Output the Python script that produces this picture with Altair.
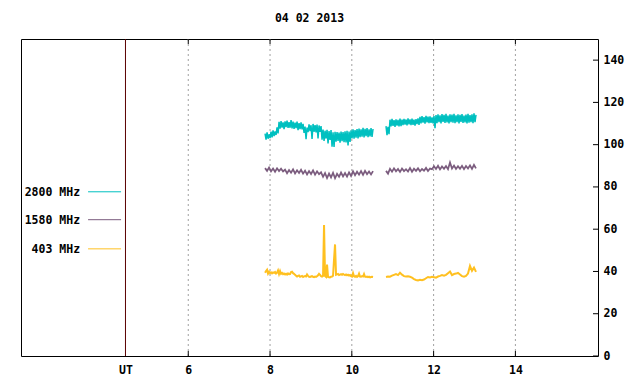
import altair as alt
import pandas as pd

TITLE = "04 02 2013"
SERIES = ["2800 MHz", "1580 MHz", "403 MHz"]
COLORS = ["#00c0c0", "#7b5c7e", "#ffc020"]

X_DOMAIN = [1.91, 16.02]
Y_DOMAIN = [0, 150]
X_TICKS = [6, 8, 10, 12, 14]
UT_POS = 4.465
Y_TICKS = [0, 20, 40, 60, 80, 100, 120, 140]

DT1 = 0.02445   # hours between samples (fine)
DT2 = 0.0489    # hours between samples (coarse)

# ---- 2800 MHz ----
S2800_A_START = 7.878
S2800_A = [105.2, 102.4, 105.8, 102.8, 104.9, 103.1,
           106.2, 103.4, 106.8, 104.0, 106.3,
           104.6, 108.2, 105.3,
           110.8, 107.6, 111.2, 108.1, 110.5, 107.4, 111.0, 108.3, 111.4, 107.9, 110.7, 108.0, 111.6, 107.7, 110.9,
           107.5, 110.4, 107.8, 110.9, 106.9, 110.2, 107.4, 110.6, 107.2, 109.8,
           105.6, 108.6, 102.6, 108.1,
           105.9, 109.6, 106.4, 109.2, 102.7, 109.8, 106.1, 109.3, 105.8, 109.5, 103.0, 109.1, 106.0, 108.8,
           102.4, 107.1, 101.8, 106.6, 102.9, 107.0, 100.6, 106.4, 102.2, 106.9,
           99.0, 105.8, 98.9, 106.1,
           101.4, 106.0, 101.8, 105.7, 100.9, 106.2, 101.6, 105.9, 101.2, 106.3,
           101.0, 106.6, 99.6, 106.2, 101.3, 106.8,
           103.0, 107.2, 102.8, 106.9, 103.3, 107.4, 102.9,
           107.6, 103.6, 107.2, 103.8, 108.0, 103.4, 107.5, 104.0, 107.8, 103.5, 107.3, 103.9, 107.9, 103.7, 107.4]
S2800_B_START = 10.836
S2800_B = [108.8, 104.5, 108.4, 105.0,
           111.8, 108.6, 112.2, 108.9, 111.6, 108.4, 112.0, 109.0, 111.7, 108.7, 112.3, 108.8, 111.9,
           109.2, 112.2, 109.5, 111.9, 109.1, 112.4, 109.6, 112.0, 109.3, 112.3, 109.4, 111.8, 109.0, 112.1, 109.7, 112.5, 109.3,
           113.2, 110.1, 113.5, 110.4, 113.0, 110.0, 113.6, 110.5, 113.3, 110.2, 113.4, 110.3, 112.9, 110.1, 113.5, 107.8,
           114.0, 110.2, 114.4, 110.6, 113.9, 110.0, 114.5, 110.8, 114.1, 110.3, 114.6, 110.5, 113.8, 110.1, 114.3, 110.7,
           114.2, 110.4, 114.6, 110.2, 113.9, 110.6, 114.4, 110.0, 114.1, 110.8, 114.5, 110.3, 113.8, 110.5, 114.2, 110.1,
           114.6, 110.4, 114.0, 110.7, 114.3, 110.2, 114.8, 110.6, 114.1]

# ---- 1580 MHz ----
S1580_A_START = 7.878
S1580_A = [88.9, 87.6, 89.2,
           87.4, 88.7, 87.2, 88.8, 87.5, 88.6, 87.3,
           88.2, 86.5, 88.0, 86.7, 88.3, 86.4, 87.9, 86.6, 88.1, 86.3,
           87.7, 85.9, 87.5, 86.1, 87.8, 85.8, 87.4, 86.0,
           86.9, 84.8, 86.6, 84.2, 86.3, 84.5, 86.7, 84.1, 86.2,
           84.8, 86.8, 85.0, 86.6, 84.9, 86.9, 85.2,
           87.4, 85.6, 87.2, 85.8, 87.5, 85.7, 87.6, 86.0, 87.3, 85.9, 87.5]
S1580_B_START = 10.836
S1580_B = [87.6, 86.3,
           88.6, 87.2, 88.8, 87.4, 88.5, 87.1, 88.7, 87.5, 88.4, 87.3, 88.9, 87.2, 88.6, 87.6, 88.8, 87.4, 88.5, 87.7, 89.0, 87.5, 88.7,
           88.4, 89.8, 88.5, 90.0, 88.3, 89.7, 88.6, 89.9, 88.4, 91.6, 88.7, 90.1, 88.5, 89.8, 88.6, 90.0, 88.4, 89.9, 88.7, 90.2,
           88.5, 90.4, 88.8]

# ---- 403 MHz ----
S403_A_START = 7.878
S403_A = [39.4, 40.2, 40.8, 39.0, 39.8, 39.2,
          39.6, 39.1, 39.5, 39.3, 39.7, 39.0, 39.4, 40.5,
          38.8, 40.2, 38.9, 39.3,
          38.7, 39.0, 38.6, 38.9, 38.5, 39.1, 38.7, 38.8,
          39.7, 39.9, 39.2, 38.9, 38.4,
          38.0, 37.6, 37.9, 38.1, 37.5, 37.7, 37.9, 37.4, 37.7, 37.8, 37.6, 38.6,
          37.9, 37.5, 37.4, 37.6, 37.8, 37.5, 37.3, 37.6, 37.4, 37.7, 38.2, 38.9, 38.4, 37.8, 37.6, 37.9,
          62.0, 37.8, 37.4, 43.2,
          37.4, 37.3, 37.2, 37.5, 37.6,
          38.0, 45.7, 52.8,
          38.4, 38.6, 38.8, 38.3, 38.5, 38.7, 38.4, 38.8, 38.5, 38.3, 38.6, 38.2, 38.5, 38.1, 38.3,
          37.8, 37.6, 39.2, 37.7, 37.5, 37.9, 37.4, 37.8, 39.0, 37.6, 37.5, 37.8, 37.6, 38.8, 37.5, 37.4,
          37.6, 37.3, 37.5, 37.2, 37.4, 37.5, 37.4]
S403_B_START = 10.836
S403_B = [37.4, 37.6, 37.5, 38.0, 38.4, 38.8, 38.3, 39.4, 38.5, 37.8, 37.6, 37.7, 37.5, 37.1, 36.4,
          36.0, 35.8, 36.1, 35.9, 36.2, 36.8, 37.4, 37.2, 37.5, 37.3, 37.1, 37.6, 37.9, 38.3, 38.0,
          38.4, 39.2, 40.0, 38.3, 38.8, 39.0, 39.3, 38.6, 37.8, 37.5, 37.9, 39.0, 42.6, 40.3, 41.8, 39.8]

SEGMENTS = [
    ("2800 MHz", "a", S2800_A_START, DT1, S2800_A),
    ("2800 MHz", "b", S2800_B_START, DT1, S2800_B),
    ("1580 MHz", "a", S1580_A_START, DT2, S1580_A),
    ("1580 MHz", "b", S1580_B_START, DT2, S1580_B),
    ("403 MHz", "a", S403_A_START, DT1, S403_A),
    ("403 MHz", "b", S403_B_START, DT2, S403_B),
]

rows = []
for name, seg, start, dt, vals in SEGMENTS:
    for i, v in enumerate(vals):
        rows.append({"t": start + i * dt, "v": v, "series": name, "seg": name + seg})
df = pd.DataFrame(rows)

# legend placement (data units)
LEG_Y = [77.7, 64.5, 50.7]
LEG_TEXT_X = 3.355
LEG_LINE_X = [3.55, 4.357]

FONT = "DejaVu Sans Mono"
FS = 11.5

xs = alt.Scale(domain=X_DOMAIN, nice=False, zero=False)
ys = alt.Scale(domain=Y_DOMAIN, nice=False, zero=False)
cs = alt.Scale(domain=SERIES, range=COLORS)
WIDTHS = alt.Scale(domain=SERIES, range=[1.5, 2.0, 1.1])

AXX = alt.Axis(
    orient="bottom", values=[UT_POS] + X_TICKS, ticks=False, grid=False, domain=False,
    labelExpr="datum.value < 5 ? 'UT' : format(datum.value, 'd')",
    labelFont=FONT, labelFontSize=FS, labelFontWeight="bold", labelColor="black",
    labelPadding=8, title=None)
AXY = alt.Axis(
    orient="right", values=Y_TICKS, ticks=False, grid=False, domain=False,
    labelFont=FONT, labelFontSize=FS, labelFontWeight="bold", labelColor="black",
    labelPadding=5, title=None)

TICK_Y = 5 / 2.113
TICK_X = 5 / 40.9

grid = alt.Chart(pd.DataFrame({"t": X_TICKS})).mark_rule(
    color="#a0a0a0", strokeDash=[2, 3], strokeWidth=1
).encode(x=alt.X("t:Q", scale=xs, axis=AXX))

ut = alt.Chart(pd.DataFrame({"t": [UT_POS]})).mark_rule(
    color="#5a0000", strokeWidth=1
).encode(x=alt.X("t:Q", scale=xs, axis=AXX))

lines = alt.Chart(df).mark_line(clip=True).encode(
    x=alt.X("t:Q", scale=xs, axis=AXX),
    y=alt.Y("v:Q", scale=ys, axis=AXY),
    color=alt.Color("series:N", scale=cs, legend=None),
    strokeWidth=alt.StrokeWidth("series:N", scale=WIDTHS, legend=None),
    detail="seg:N",
)

xt = pd.DataFrame({"t": X_TICKS})
ticks_bottom = alt.Chart(xt).mark_rule(color="black").encode(
    x=alt.X("t:Q", scale=xs, axis=AXX),
    y=alt.Y("y0:Q", scale=ys, axis=AXY),
    y2="y1:Q",
).transform_calculate(y0="0", y1=str(TICK_Y))
ticks_top = alt.Chart(xt).mark_rule(color="black").encode(
    x=alt.X("t:Q", scale=xs, axis=AXX),
    y=alt.Y("y0:Q", scale=ys, axis=AXY),
    y2="y1:Q",
).transform_calculate(y0=str(Y_DOMAIN[1] - TICK_Y), y1=str(Y_DOMAIN[1]))
ticks_right = alt.Chart(pd.DataFrame({"v": Y_TICKS})).mark_rule(color="black").encode(
    y=alt.Y("v:Q", scale=ys, axis=AXY),
    x=alt.X("x0:Q", scale=xs, axis=AXX),
    x2="x1:Q",
).transform_calculate(x0=str(X_DOMAIN[1] - TICK_X), x1=str(X_DOMAIN[1]))

leg_df = pd.DataFrame({"series": SERIES, "y": LEG_Y,
                       "tx": [LEG_TEXT_X] * 3,
                       "x0": [LEG_LINE_X[0]] * 3, "x1": [LEG_LINE_X[1]] * 3})
leg_text = alt.Chart(leg_df).mark_text(
    align="right", baseline="middle", font=FONT, fontSize=FS, fontWeight="bold",
    color="black", dy=1
).encode(
    x=alt.X("tx:Q", scale=xs, axis=AXX),
    y=alt.Y("y:Q", scale=ys, axis=AXY),
    text="series:N",
)
leg_line = alt.Chart(leg_df).mark_rule(strokeWidth=1).encode(
    x=alt.X("x0:Q", scale=xs, axis=AXX),
    x2="x1:Q",
    y=alt.Y("y:Q", scale=ys, axis=AXY),
    color=alt.Color("series:N", scale=cs, legend=None),
)

chart = alt.layer(
    grid, ut, lines, ticks_bottom, ticks_top, ticks_right, leg_line, leg_text
).properties(
    width=577, height=317,
    title=alt.TitleParams(TITLE, font=FONT, fontSize=FS, fontWeight="bold",
                          color="black", anchor="middle", offset=14),
    autosize=alt.AutoSizeParams(type="none"),
    padding={"left": 13, "top": 31, "right": 34, "bottom": 20},
).configure(
    background="white",
    view=alt.ViewConfig(stroke="black", strokeWidth=1),
)

chart.save("out.html", embed_options={"renderer": "svg", "actions": False})
